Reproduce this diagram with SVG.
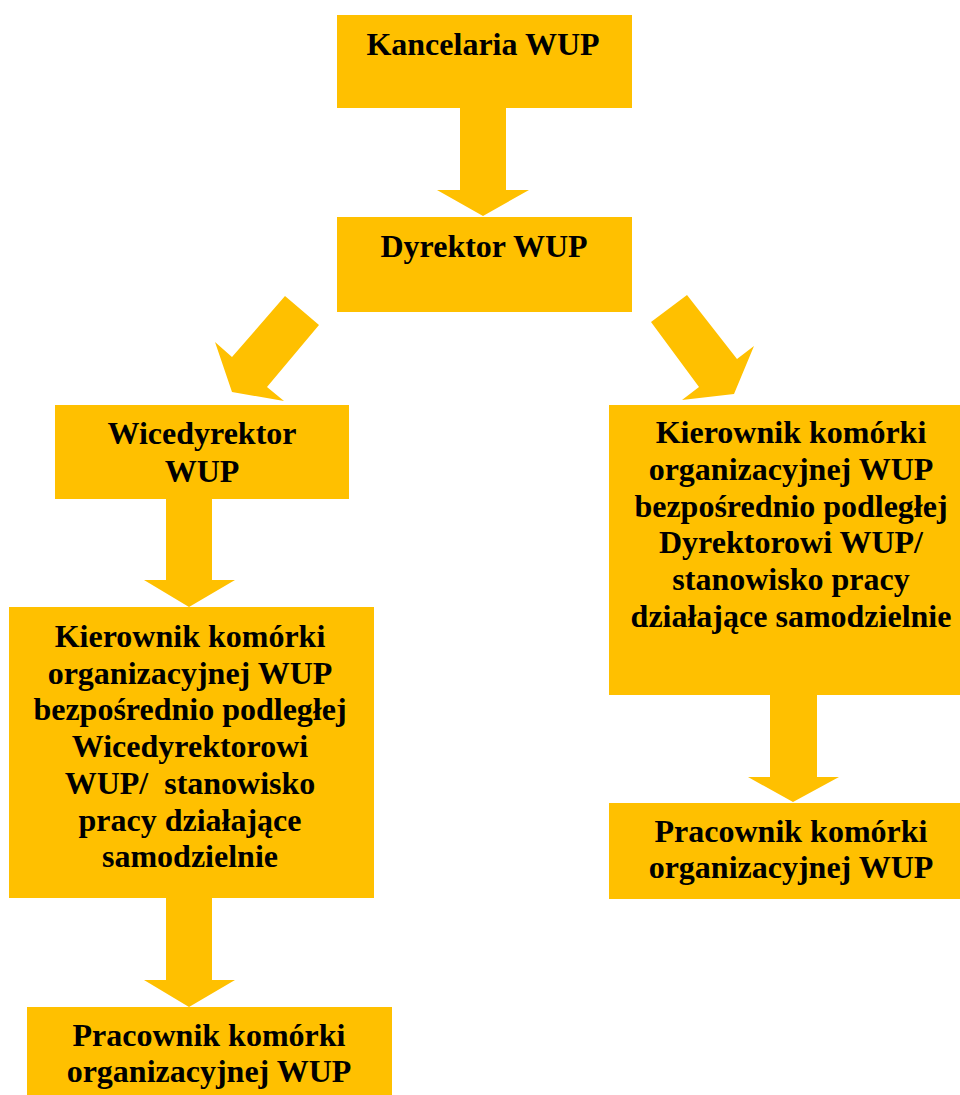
<svg xmlns="http://www.w3.org/2000/svg" width="960" height="1095" viewBox="0 0 960 1095">
<style>
.box{fill:#FFC000}
.arrow{fill:#FFC000}
text{font-family:"Liberation Serif","Times New Roman",serif;font-weight:bold;font-size:32px;fill:#000;text-anchor:middle}
</style>
<rect width="960" height="1095" fill="#fff"/>
<g id="connectors">
<polygon class="arrow" points="460,108 506,108 506,190 529,190 483,216 437,190 460,190"/>
<polygon class="arrow" points="285,296 319,325 267,387 284,401 232,392 215,342 232,357"/>
<polygon class="arrow" points="651,322 687,295 737,359 754,346 734,394 682,400 699,387"/>
<polygon class="arrow" points="166,499 212,499 212,580 235,580 189,607 144,580 166,580"/>
<polygon class="arrow" points="166,898 212,898 212,980 235,980 189,1007 144,980 166,980"/>
<polygon class="arrow" points="770,695 817,695 817,777 839,777 793,802 748,777 770,777"/>
</g>
<g id="kancelaria">
<rect class="box" x="337" y="15" width="295" height="93"/>
<text x="483" y="55">Kancelaria WUP</text>
</g>
<g id="dyrektor">
<rect class="box" x="337" y="217" width="295" height="95"/>
<text x="484" y="257">Dyrektor WUP</text>
</g>
<g id="wicedyrektor">
<rect class="box" x="55" y="405" width="294" height="94"/>
<text x="202" y="444">Wicedyrektor</text>
<text x="202" y="482">WUP</text>
</g>
<g id="kierownik-wice">
<rect class="box" x="9" y="607" width="365" height="291"/>
<text x="190" y="647">Kierownik komórki</text>
<text x="190" y="683.7">organizacyjnej WUP</text>
<text x="190" y="720.4">bezpośrednio podległej</text>
<text x="190" y="757.1">Wicedyrektorowi</text>
<text x="190" y="793.8" xml:space="preserve">WUP/  stanowisko</text>
<text x="190" y="830.5">pracy działające</text>
<text x="190" y="867.2">samodzielnie</text>
</g>
<g id="pracownik-left">
<rect class="box" x="27" y="1007" width="365" height="88"/>
<text x="209" y="1046">Pracownik komórki</text>
<text x="209" y="1082">organizacyjnej WUP</text>
</g>
<g id="kierownik-dyr">
<rect class="box" x="609" y="405" width="351" height="290"/>
<text x="791" y="443">Kierownik komórki</text>
<text x="791" y="479.8">organizacyjnej WUP</text>
<text x="791" y="516.6">bezpośrednio podległej</text>
<text x="791" y="553.4">Dyrektorowi WUP/</text>
<text x="791" y="590.2">stanowisko pracy</text>
<text x="791" y="627">działające samodzielnie</text>
</g>
<g id="pracownik-right">
<rect class="box" x="609" y="803" width="351" height="96"/>
<text x="791" y="842">Pracownik komórki</text>
<text x="791" y="878">organizacyjnej WUP</text>
</g>
</svg>
